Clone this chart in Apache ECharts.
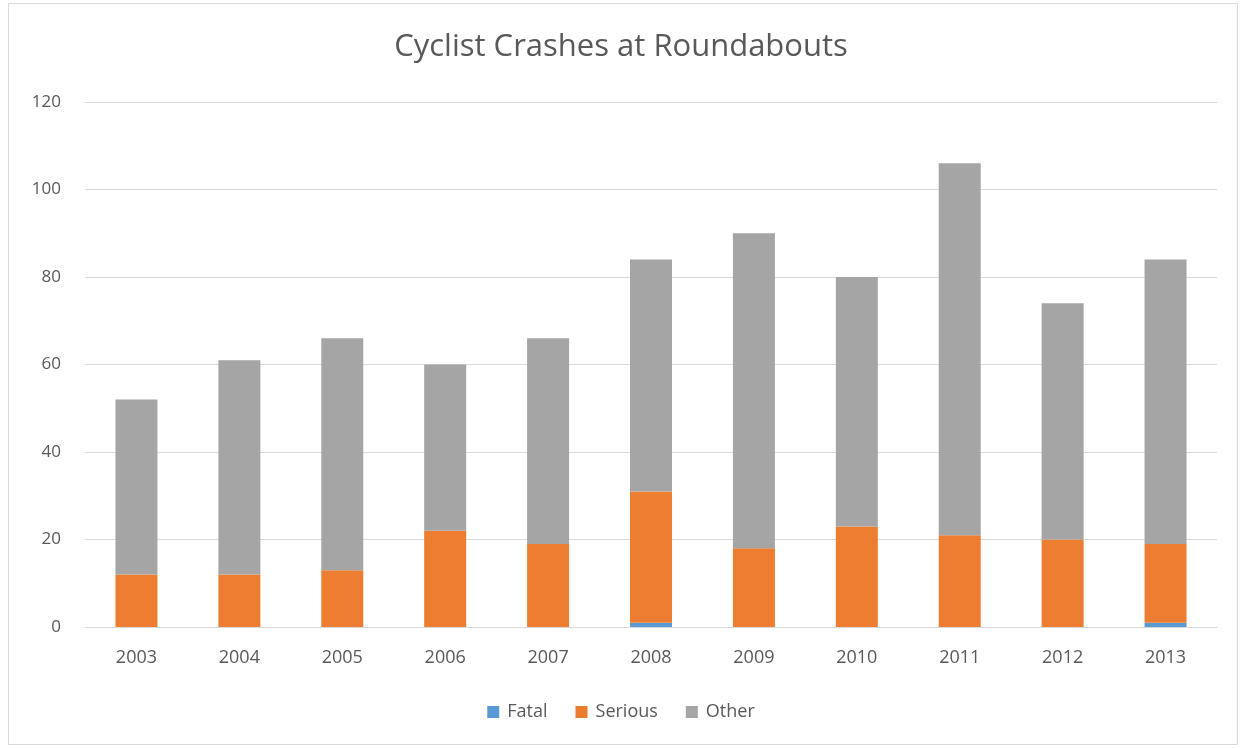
<!DOCTYPE html>
<html>
<head>
<meta charset="utf-8">
<script src="https://cdn.jsdelivr.net/npm/echarts@6/dist/echarts.min.js"></script>
<style>
  html, body { margin: 0; padding: 0; background: #ffffff; }
  #chart { width: 1242px; height: 748px; }
</style>
</head>
<body>
<div id="chart"></div>
<script>
// Crash counts per year, split by severity
const years = ['2003', '2004', '2005', '2006', '2007', '2008', '2009', '2010', '2011', '2012', '2013'];
const fatal = [0, 0, 0, 0, 0, 1, 0, 0, 0, 0, 1];
const serious = [12, 12, 13, 22, 19, 30, 18, 23, 21, 20, 18];
const other = [40, 49, 53, 38, 47, 53, 72, 57, 85, 54, 65];
const yTicks = [0, 20, 40, 60, 80, 100, 120];

const font = 'Open Sans, Noto Sans, sans-serif';
const textColor = '#595959';

const chart = echarts.init(document.getElementById('chart'), null, { renderer: 'canvas' });

function barSeries(name, data, color) {
  return {
    name: name,
    type: 'bar',
    stack: 'total',
    data: data,
    barWidth: 42,
    itemStyle: { color: color },
    emphasis: { disabled: true }
  };
}

chart.setOption({
  backgroundColor: '#ffffff',
  animation: false,
  graphic: [{
    type: 'rect',
    shape: { x: 8.5, y: 3.5, width: 1229, height: 741 },
    style: { fill: 'none', stroke: '#d9d9d9', lineWidth: 1 },
    silent: true
  }],
  title: {
    text: 'Cyclist Crashes at Roundabouts',
    left: 'center',
    top: 27,
    textStyle: { fontFamily: font, fontSize: 31, fontWeight: 'normal', color: textColor }
  },
  legend: {
    data: ['Fatal', 'Serious', 'Other'],
    bottom: 22,
    left: 'center',
    itemWidth: 12,
    itemHeight: 12,
    itemGap: 28,
    icon: 'rect',
    textStyle: { fontFamily: font, fontSize: 18, color: textColor, padding: [0, 0, 0, 3] }
  },
  grid: { left: 85, right: 25, top: 102, bottom: 121 },
  xAxis: {
    type: 'category',
    data: years,
    axisLine: { lineStyle: { color: '#d9d9d9' } },
    axisTick: { show: false },
    axisLabel: { fontFamily: font, fontSize: 18, color: textColor, margin: 22 }
  },
  yAxis: {
    type: 'value',
    min: yTicks[0],
    max: yTicks[yTicks.length - 1],
    interval: yTicks[1] - yTicks[0],
    axisLine: { show: false },
    axisTick: { show: false },
    splitLine: { lineStyle: { color: '#d9d9d9' } },
    axisLabel: { fontFamily: font, fontSize: 17, color: textColor, margin: 24 }
  },
  series: [
    barSeries('Fatal', fatal, '#5b9bd5'),
    barSeries('Serious', serious, '#ed7d31'),
    barSeries('Other', other, '#a5a5a5')
  ]
});
</script>
</body>
</html>
